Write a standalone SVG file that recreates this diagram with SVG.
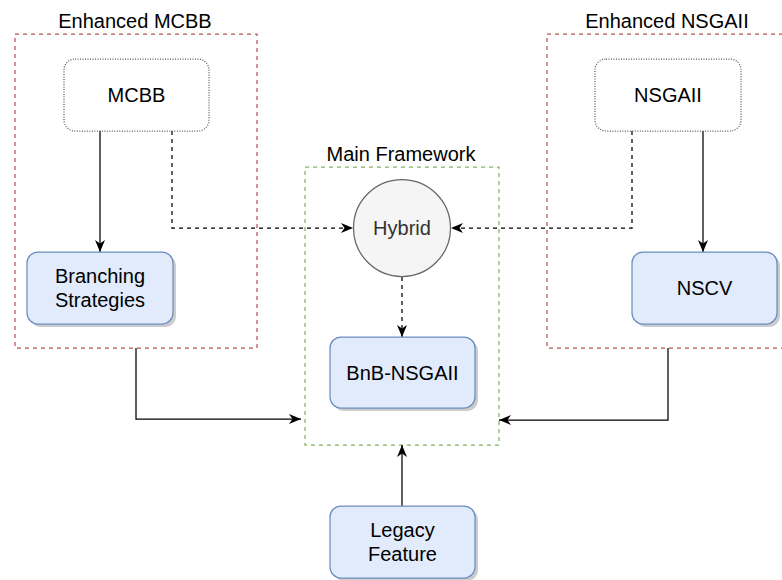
<svg xmlns="http://www.w3.org/2000/svg" width="782" height="580" viewBox="0 0 782 580">
  <defs>
    <style>
      text { font-family: "Liberation Sans", Arial, Helvetica, sans-serif; font-size: 20px; fill: #000; text-anchor: middle; }
      .red { fill: none; stroke: #b85450; stroke-width: 1.25; stroke-dasharray: 4 4; }
      .green { fill: none; stroke: #82b366; stroke-width: 1.25; stroke-dasharray: 4 4; }
      .blue { fill: #e1ebfc; stroke: #6c8ebf; stroke-width: 1.25; }
      .shadow { fill: #000; opacity: 0.2; }
      .plain { fill: #fff; stroke: #555; stroke-width: 1.25; stroke-dasharray: 1 1.5; }
      .circle { fill: #f5f5f5; stroke: #666; stroke-width: 1.25; }
      .edge { fill: none; stroke: #000; stroke-width: 1.25; marker-end: url(#arrow); }
      .dash { stroke-dasharray: 4 4; }
    </style>
    <marker id="arrow" markerUnits="userSpaceOnUse" markerWidth="13" markerHeight="11" refX="12" refY="5.5" orient="auto" viewBox="0 0 13 11">
      <path d="M0,0.5 L12,5.5 L0,10.5 L3.5,5.5 Z" fill="#000"/>
    </marker>
  </defs>

  <g id="enhanced-mcbb">
    <rect class="red" x="15" y="34" width="242" height="314"/>
    <text x="135" y="28">Enhanced MCBB</text>
  </g>
  <g id="enhanced-nsgaii">
    <rect class="red" x="547" y="34" width="242" height="314"/>
    <text x="667" y="28">Enhanced NSGAII</text>
  </g>
  <g id="main-framework">
    <rect class="green" x="305" y="167" width="194" height="278"/>
    <text x="401" y="161">Main Framework</text>
  </g>

  <g id="connectors">
    <path class="edge" d="M100,131 V252"/>
    <path class="edge" d="M703,131 V252"/>
    <path class="edge dash" d="M172,131 V228 H353"/>
    <path class="edge dash" d="M632,131 V228 H451"/>
    <path class="edge dash" d="M402,277 V337"/>
    <path class="edge" d="M136,348 V419 H301"/>
    <path class="edge" d="M668,348 V420 H499"/>
    <path class="edge" d="M402,506 V445"/>
  </g>

  <g id="mcbb">
    <rect class="plain" x="64" y="59" width="145" height="72" rx="11"/>
    <text x="136.5" y="102">MCBB</text>
  </g>
  <g id="nsgaii">
    <rect class="plain" x="595" y="59" width="146" height="72" rx="11"/>
    <text x="668" y="102">NSGAII</text>
  </g>
  <g id="branching-strategies">
    <rect class="shadow" x="30" y="255" width="146" height="72" rx="11"/>
    <rect class="blue" x="27" y="252" width="146" height="72" rx="11"/>
    <text x="100" y="283">Branching</text>
    <text x="100" y="307">Strategies</text>
  </g>
  <g id="nscv">
    <rect class="shadow" x="635" y="255" width="145" height="72" rx="11"/>
    <rect class="blue" x="632" y="252" width="145" height="72" rx="11"/>
    <text x="704.5" y="295">NSCV</text>
  </g>
  <g id="hybrid">
    <circle class="circle" cx="402" cy="228" r="48.5"/>
    <text x="402" y="235" style="fill:#333">Hybrid</text>
  </g>
  <g id="bnb-nsgaii">
    <rect class="shadow" x="333" y="340" width="145" height="71" rx="11"/>
    <rect class="blue" x="330" y="337" width="145" height="71" rx="11"/>
    <text x="402.5" y="380">BnB-NSGAII</text>
  </g>
  <g id="legacy-feature">
    <rect class="shadow" x="333" y="509" width="145" height="72" rx="11"/>
    <rect class="blue" x="330" y="506" width="145" height="72" rx="11"/>
    <text x="402.5" y="537">Legacy</text>
    <text x="402.5" y="561">Feature</text>
  </g>
</svg>
